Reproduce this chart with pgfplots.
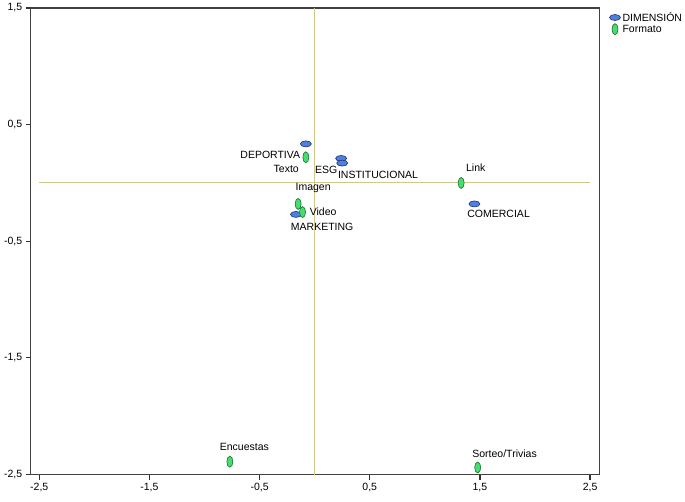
\documentclass[border=0pt]{standalone}
\usepackage{pgfplots}
\pgfplotsset{compat=1.18}
\usepackage{fontspec}
\setmainfont{Liberation Sans}

\definecolor{dimfill}{RGB}{78,128,222}
\definecolor{dimedge}{RGB}{28,48,120}
\definecolor{fmtfill}{RGB}{70,222,112}
\definecolor{fmtedge}{RGB}{24,110,44}
\definecolor{refline}{RGB}{206,200,138}

\pgfdeclareplotmark{hell}{%
  \pgfpathellipse{\pgfpointorigin}{\pgfqpoint{5.5pt}{0pt}}{\pgfqpoint{0pt}{3pt}}%
  \pgfusepathqfillstroke}
\pgfdeclareplotmark{vell}{%
  \pgfpathellipse{\pgfpointorigin}{\pgfqpoint{3pt}{0pt}}{\pgfqpoint{0pt}{5.5pt}}%
  \pgfusepathqfillstroke}

\begin{document}
\begin{tikzpicture}
\useasboundingbox (0,0) rectangle (685pt,501pt);
\begin{axis}[
    at={(30.7pt,26.5pt)}, anchor=south west,
    width=568.6pt, height=466.5pt, scale only axis,
    xmin=-2.578, xmax=2.584,
    ymin=-2.5, ymax=1.5,
    xtick={-2.5,-1.5,-0.5,0.5,1.5,2.5},
    ytick={-2.5,-1.5,-0.5,0.5,1.5},
    /pgf/number format/.cd, use comma, fixed, fixed zerofill, precision=1, assume math mode=true,
    /pgfplots/.cd,
    tick label style={font=\fontsize{10.5}{12}\selectfont},
    tick align=outside, tick pos=left,
    major tick length=5pt,
    tick style={line width=1.2pt, color=black!80},
    axis line style={line width=1.3pt, color=black!75},
    legend style={at={(1,1)}, anchor=north west, xshift=9pt, yshift=-1pt,
        draw=none, fill=none, font=\fontsize{10.5}{12}\selectfont,
        row sep=-2pt, inner sep=1pt},
    legend cell align=left,
    legend image code/.code={\draw[mark repeat=2,mark phase=2]
        plot coordinates {(-1pt,0pt)(5pt,0pt)(11pt,0pt)};},
    clip=false,
]
\addplot[forget plot, refline, line width=0.9pt] coordinates {(0,-2.5) (0,1.5)};
\addplot[forget plot, refline, line width=0.9pt] coordinates {(-2.5,0) (2.5,0)};

% DIMENSION
\addplot[only marks, mark=hell, mark options={fill=dimfill, draw=dimedge, line width=0.6pt}]
coordinates {
    (-0.08,0.335)   % DEPORTIVA
    (0.24,0.21)     % ESG
    (0.25,0.17)     % INSTITUCIONAL
    (-0.17,-0.27)   % MARKETING
    (1.45,-0.18)    % COMERCIAL
};
% Formato
\addplot[only marks, mark=vell, mark options={fill=fmtfill, draw=fmtedge, line width=0.6pt}]
coordinates {
    (-0.08,0.22)    % Texto
    (-0.15,-0.18)   % Imagen
    (-0.11,-0.25)   % Video
    (1.33,0.0)      % Link
    (-0.77,-2.39)   % Encuestas
    (1.48,-2.44)    % Sorteo/Trivias
};
\legend{DIMENSIÓN, Formato}

\begin{scope}[every node/.style={font=\fontsize{10.5}{12}\selectfont, inner sep=0pt}]
\node at (axis cs:-0.403,0.24) {DEPORTIVA};
\node at (axis cs:-0.258,0.12) {Texto};
\node at (axis cs:0.104,0.112) {ESG};
\node at (axis cs:0.575,0.069) {INSTITUCIONAL};
\node at (axis cs:-0.014,-0.043) {Imagen};
\node at (axis cs:0.077,-0.249) {Video};
\node at (axis cs:0.068,-0.378) {MARKETING};
\node at (axis cs:1.462,0.129) {Link};
\node at (axis cs:1.67,-0.266) {COMERCIAL};
\node at (axis cs:-0.638,-2.266) {Encuestas};
\node at (axis cs:1.724,-2.318) {Sorteo/Trivias};
\end{scope}
\end{axis}
\end{tikzpicture}
\end{document}
